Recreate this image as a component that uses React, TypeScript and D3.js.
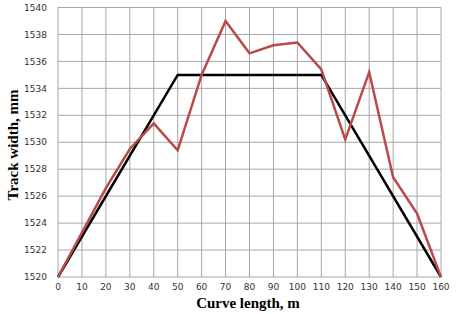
import React from "react";
import * as d3 from "d3";

const distances = [0, 10, 20, 30, 40, 50, 60, 70, 80, 90, 100, 110, 120, 130, 140, 150, 160];
const measured = [1520, 1523.3, 1526.6, 1529.5, 1531.4, 1529.4, 1535, 1539, 1536.6, 1537.2, 1537.4, 1535.4, 1530.2, 1535.2, 1527.4, 1524.7, 1520];
const designX = [0, 50, 110, 160];
const designY = [1520, 1535, 1535, 1520];
const xTicks = [0, 10, 20, 30, 40, 50, 60, 70, 80, 90, 100, 110, 120, 130, 140, 150, 160];
const yTicks = [1520, 1522, 1524, 1526, 1528, 1530, 1532, 1534, 1536, 1538, 1540];

const W = 458, H = 314;
const L = 58, R = 441, T = 7.5, B = 277;

export default function App() {
  const x = d3.scaleLinear().domain([0, 160]).range([L, R]);
  const y = d3.scaleLinear().domain([1520, 1540]).range([B, T]);
  const line = d3.line<[number, number]>().x(d => x(d[0])).y(d => y(d[1]));
  const red = line(distances.map((d, i) => [d, measured[i]] as [number, number])) || "";
  const black = line(designX.map((d, i) => [d, designY[i]] as [number, number])) || "";
  return (
    <svg width={W} height={H} style={{ position: "absolute", left: 0, top: 0, background: "#fff" }}>
      <rect x={0} y={0} width={W} height={H} fill="#fff" />
      {xTicks.map(t => (
        <line key={"gx" + t} x1={x(t)} x2={x(t)} y1={T} y2={B} stroke="#a6a6a6" strokeWidth={1} />
      ))}
      {yTicks.map(t => (
        <line key={"gy" + t} x1={L} x2={R} y1={y(t)} y2={y(t)} stroke="#a6a6a6" strokeWidth={1} />
      ))}
      {yTicks.map(t => (
        <text key={"ty" + t} x={47} y={y(t)} dy="0.35em" textAnchor="end" fontFamily="DejaVu Sans" fontSize={9} fill="#333">{t}</text>
      ))}
      {xTicks.map(t => (
        <text key={"tx" + t} x={x(t)} y={287} dy="0.35em" textAnchor="middle" fontFamily="DejaVu Sans" fontSize={9} fill="#333">{t}</text>
      ))}
      <path d={black} fill="none" stroke="#000" strokeWidth={2.5} strokeLinejoin="miter" />
      <path d={red} fill="none" stroke="#b84a4a" strokeWidth={2.5} strokeLinejoin="miter" />
      <text x={248} y={308} textAnchor="middle" fontFamily="Liberation Serif" fontWeight="bold" fontSize={15} fill="#000">Curve length, m</text>
      <text transform="translate(18,145) rotate(-90)" textAnchor="middle" fontFamily="Liberation Serif" fontWeight="bold" fontSize={15} fill="#000">Track width, mm</text>
    </svg>
  );
}
